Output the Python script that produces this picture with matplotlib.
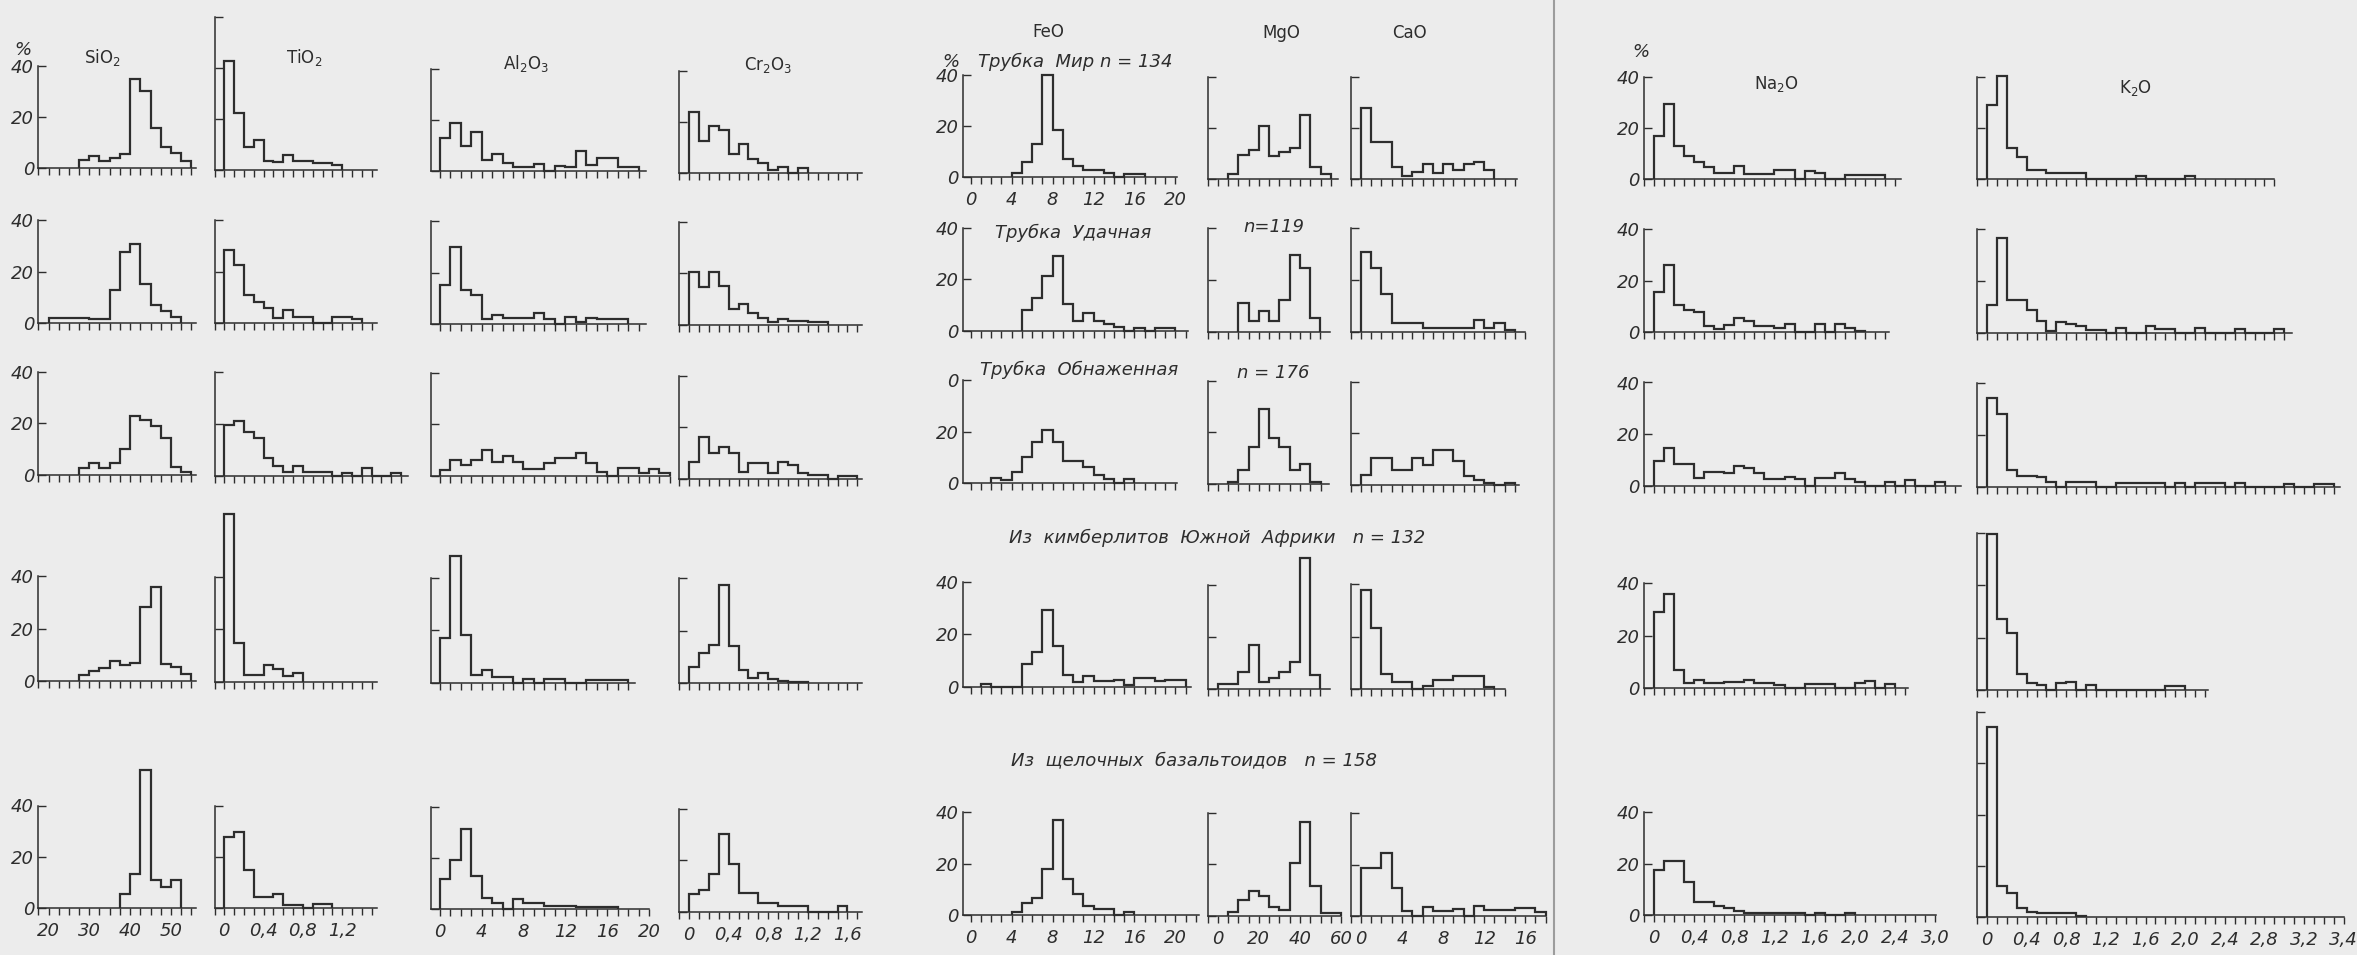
import numpy as np
import matplotlib
matplotlib.use("Agg")
import matplotlib.pyplot as plt
from matplotlib.lines import Line2D

# ---------------- categories / labels ----------------
OXIDE_LABELS = [r"SiO$_2$", r"TiO$_2$", r"Al$_2$O$_3$", r"Cr$_2$O$_3$", "FeO", "MgO", "CaO",
                r"Na$_2$O", r"K$_2$O"]
GROUP_NAMES = ["Трубка  Мир", "Трубка  Удачная", "Трубка  Обнаженная",
               "Из  кимберлитов  Южной  Африки", "Из  щелочных  базальтоидов"]
GROUP_N = [134, 119, 176, 132, 158]
BIN_WIDTH = [2.5, 0.1, 1, 0.1, 1, 5, 1, 0.1, 0.1]

# ---------------- histogram values (% per bin), one list per group ----------------
SIO2_START = [27.5, 20, 27.5, 27.5, 37.5]
SIO2_VALUES = [
    [3, 4.6, 2.6, 3.7, 5.4, 34.8, 30.2, 15.4, 8, 5.9, 2.6],
    [2, 2, 2, 2, 1.7, 1.7, 13, 27.7, 30.6, 15.3, 7.1, 4.9, 2.6],
    [2.8, 4.8, 2.8, 4.5, 10, 22.8, 21.3, 19.1, 14.2, 3.2, 1.3],
    [2.25, 3.75, 5.1, 7.6, 6, 7, 28.2, 35.7, 6.6, 5.4, 2.5],
    [5.5, 13.5, 54, 11.2, 8.4, 11],
]
TIO2_START = [0, 0, 0, 0, 0]
TIO2_VALUES = [
    [42.8, 22.4, 9.1, 11.7, 3.5, 3.3, 5.9, 3.5, 3.5, 2.6, 2.6, 2],
    [28.6, 22.5, 11, 8.4, 5.8, 1.9, 5.2, 2.6, 2.6, 0, 0, 2.6, 2.6, 1.6],
    [19.6, 21.3, 17, 14.8, 6.7, 3.7, 1.5, 3.9, 1.5, 1.5, 1.5, 0, 1.2, 0, 2.8, 0, 0, 1.2],
    [64, 14.8, 2.5, 2.5, 6.5, 5, 2.1, 3.4],
    [27.7, 29.5, 15, 4.3, 4.3, 5.6, 1.3, 1.3, 0, 1.7, 1.7],
]
AL2O3_START = [0, 0, 0, 0, 0]
AL2O3_VALUES = [
    [13, 18.8, 9.8, 15, 4.2, 6.5, 2.9, 1.3, 1.3, 2.6, 0, 2, 1.3, 7.7, 2.2, 4.8, 4.8, 1.6, 1.6],
    [15.2, 29.8, 13.3, 11.4, 1.9, 3.6, 2.6, 2.6, 2.6, 4.5, 1.9, 0, 3, 1, 2.3, 1.9, 1.9, 1.9],
    [2.3, 6.2, 4.3, 6.2, 10.1, 5.6, 7.8, 5.6, 2.6, 2.6, 4.9, 7.1, 7.1, 9.1, 4.9, 1.7, 0, 3, 3, 1, 2.6, 1],
    [17, 48.4, 18.3, 3, 4.7, 2, 2, 0, 1.3, 0, 1.3, 1.3, 0, 0, 1, 1, 1, 1],
    [11.7, 19.2, 31.2, 13, 4.3, 2.6, 0, 3.9, 2.3, 2.3, 1.4, 1.4, 1.4, 1, 1, 1, 1],
]
CR2O3_START = [0, 0, 0, 0, 0]
CR2O3_VALUES = [
    [23.9, 12.6, 18.7, 16.8, 7.5, 11.6, 5.5, 3.9, 1.3, 2.6, 0, 2.2],
    [20.6, 14.6, 20.6, 15, 6.1, 8.1, 4.5, 2.6, 1.3, 2.2, 1.5, 1.5, 1.3, 1.3],
    [6.7, 16.1, 9.9, 12.5, 10.2, 2.8, 6.3, 6.3, 2.2, 6.7, 5.5, 2.2, 1.5, 1.5, 0, 1, 1],
    [6.25, 11.6, 14.6, 37.5, 14.1, 5, 2.1, 4.1, 1.6, 0.9, 0.6, 0.6],
    [6.7, 8.6, 14.5, 30.3, 18.5, 7.1, 7.1, 3.2, 3.2, 2.2, 2.2, 2.2, 0, 0, 0, 2.2],
]
FEO_START = [4, 5, 2, 1, 4]
FEO_VALUES = [
    [1.6, 5.7, 12.8, 39.7, 18.3, 6.9, 4, 2.6, 2.6, 1.6, 0, 1, 1],
    [8.1, 12.9, 21.3, 29, 10.3, 3.7, 7, 3.7, 2.8, 1.5, 0, 1.3, 0, 1.3, 1.3],
    [1.9, 1.3, 4.3, 10.3, 16.1, 20.6, 16.1, 8.6, 8.6, 6.5, 3.2, 1.7, 0, 1.7],
    [1.05, 0, 0, 0, 8.8, 13.4, 29.1, 15.5, 4.6, 1.7, 4, 2.2, 2.2, 2.6, 0.8, 3.4, 3.4, 2, 2.6, 2.6],
    [1.3, 4.8, 6.8, 18, 37, 14, 8.1, 3.5, 2.2, 2.2, 0, 1.3],
]
MGO_START = [5, 10, 5, 0, 5]
MGO_VALUES = [
    [1.9, 9.6, 11.3, 20.6, 8.9, 10.6, 12.2, 25.1, 4.8, 1.9],
    [11.2, 4.3, 8.1, 4.3, 12.3, 29.9, 24.8, 5.2],
    [0.9, 5.6, 14.5, 28.9, 18, 14.3, 5.6, 7.6, 0.9],
    [2, 2, 6.5, 17, 2.6, 4.3, 6.5, 10.4, 50, 5.6],
    [1.6, 6.1, 9.6, 7.7, 3.5, 2.2, 20.7, 36.3, 11.6, 1.2, 1.2],
]
CAO_START = [0, 0, 0, 0, 0]
CAO_VALUES = [
    [27.8, 14.4, 14.4, 4.7, 1.3, 2.8, 6, 2.2, 5.8, 3.5, 5.8, 6.7, 3.5],
    [31, 24.5, 14.6, 3.2, 3.2, 3.2, 1.3, 1.3, 1.3, 1.3, 1.3, 4.5, 1.3, 3.5, 0.6],
    [3.9, 10.5, 10.5, 5.9, 5.9, 10.5, 7.8, 13.5, 13.5, 9.4, 3.3, 2, 0.9, 0, 0.7],
    [37.9, 23.5, 5.9, 2.7, 2.7, 0, 1.4, 3.4, 3.4, 4.9, 4.9, 4.9, 1],
    [18.6, 18.6, 24.4, 10.8, 2.1, 0, 3.4, 2.1, 2.1, 2.6, 0, 3.9, 2.3, 2.3, 2.3, 3.2, 3.2, 1.7],
]
NA2O_START = [0, 0, 0, 0, 0]
NA2O_VALUES = [
    [16.8, 29.5, 13, 9.1, 6.6, 4.7, 2.2, 2.2, 5.1, 1.9, 1.9, 1.9, 3.4, 3.4, 0, 3.2, 2.2, 0, 0,
     1.5, 1.5, 1.5, 1.5],
    [15.6, 26, 10.4, 8.7, 7.8, 2.5, 1.2, 2.9, 5.5, 4.2, 2.5, 2.5, 1.6, 3.2, 0, 0, 3.2, 0, 3.2, 1.6, 0.6],
    [9.5, 14.5, 8.6, 8.6, 3.1, 5.4, 5.4, 4.8, 7.7, 6.7, 5, 2.6, 2.6, 3.5, 2.5, 0, 2.8, 2.8, 4.8,
     2.6, 1.3, 0, 0, 1.5, 0, 2.2, 0, 0, 1.3],
    [29, 35.9, 7.1, 1.9, 3.2, 2.2, 2.2, 2.5, 2.5, 3.2, 2.2, 2.2, 1.3, 0, 0, 1.6, 1.6, 1.6, 0, 0,
     2.2, 2.6, 0, 1.6],
    [17.6, 20.9, 20.9, 12.7, 5.2, 5.2, 3.5, 2.6, 1.7, 0.9, 0.9, 0.9, 0.9, 0.7, 0.7, 0, 0.9, 0, 0, 0.9],
]
K2O_START = [0, 0, 0, 0, 0]
K2O_VALUES = [
    [29.1, 40.4, 12.2, 8.6, 3.5, 3.5, 2.2, 2.2, 2.2, 2.2, 0, 0, 0, 0, 0, 1.3, 0, 0, 0, 0, 1.3],
    [10.8, 36.8, 12.7, 12.7, 8.8, 4.7, 0.5, 4.3, 3.4, 2.6, 1, 1, 0, 1.7, 0, 0, 2.6, 1.4, 1.4, 0, 0,
     1.7, 0, 0, 0, 1.4, 0, 0, 0, 1.4],
    [34.4, 28.3, 6.5, 4.3, 4.3, 3.6, 1.9, 0, 1.7, 1.7, 1.7, 0, 0, 1.6, 1.6, 1.6, 1.3, 1.3, 0, 1.6, 0,
     1.3, 1.3, 1.3, 0, 1.3, 0, 0, 0, 0, 1, 0, 0, 1, 1],
    [59.5, 27, 21.9, 6.1, 2.6, 2, 0, 2.6, 2.9, 0, 2, 0, 0, 0, 0, 0, 0, 0, 1.7, 1.7],
    [74.1, 12.2, 9.4, 3.5, 2.2, 1.8, 1.8, 1.8, 1.8, 0.5],
]

# ---------------- axis tick labels ----------------
SIO2_XTICKS = [20, 30, 40, 50]
TIO2_XTICKS = [0, 0.4, 0.8, 1.2]
AL2O3_XTICKS = [0, 4, 8, 12, 16, 20]
CR2O3_XTICKS = [0, 0.4, 0.8, 1.2, 1.6]
FEO_XTICKS = [0, 4, 8, 12, 16, 20]
MGO_XTICKS = [0, 20, 40, 60]
CAO_XTICKS = [0, 4, 8, 12, 16]
NA2O_XTICKS = [0, 0.4, 0.8, 1.2, 1.6, 2.0, 2.4, 2.8]
K2O_XTICKS = [0, 0.4, 0.8, 1.2, 1.6, 2.0, 2.4, 2.8, 3.2, 3.6]
SIO2_XTEXT = ["20", "30", "40", "50"]
TIO2_XTEXT = ["0", "0,4", "0,8", "1,2"]
AL2O3_XTEXT = ["0", "4", "8", "12", "16", "20"]
CR2O3_XTEXT = ["0", "0,4", "0,8", "1,2", "1,6"]
FEO_XTEXT = ["0", "4", "8", "12", "16", "20"]
MGO_XTEXT = ["0", "20", "40", "60"]
CAO_XTEXT = ["0", "4", "8", "12", "16"]
NA2O_XTEXT = ["0", "0,4", "0,8", "1,2", "1,6", "2,0", "2,4", "3,0"]
K2O_XTEXT = ["0", "0,4", "0,8", "1,2", "1,6", "2,0", "2,4", "2,8", "3,2", "3,4"]
YTICKS = [0, 20, 40]
YTEXT = ["0", "20", "40"]
YTEXT_ALT = ["0", "20", "0"]   # as printed for "Трубка Обнаженная" FeO panel

STARTS = [SIO2_START, TIO2_START, AL2O3_START, CR2O3_START, FEO_START, MGO_START, CAO_START,
          NA2O_START, K2O_START]
VALUES = [SIO2_VALUES, TIO2_VALUES, AL2O3_VALUES, CR2O3_VALUES, FEO_VALUES, MGO_VALUES, CAO_VALUES,
          NA2O_VALUES, K2O_VALUES]
XTICKS = [SIO2_XTICKS, TIO2_XTICKS, AL2O3_XTICKS, CR2O3_XTICKS, FEO_XTICKS, MGO_XTICKS, CAO_XTICKS,
          NA2O_XTICKS, K2O_XTICKS]
XTEXT = [SIO2_XTEXT, TIO2_XTEXT, AL2O3_XTEXT, CR2O3_XTEXT, FEO_XTEXT, MGO_XTEXT, CAO_XTEXT,
         NA2O_XTEXT, K2O_XTEXT]

# ---------------- layout (pixels of the 2357 x 955 page) ----------------
W, H = 2357, 955
BG = "#ececec"
INK = "#2d2d2d"
# per column: reference value, its x pixel, pixels per unit, axis start value, tick origin
REF_VAL = [17.5, -0.1, 0, 0, 0, 0, 0, 0, 0]
REF_PX = [38.3, 214.5, 439.8, 689.0, 970.8, 1217.8, 1360.9, 1654.0, 1987.0]
PPU = [4.08, 98.2, 10.46, 99.0, 10.23, 2.054, 10.27, 100.4, 99.1]
VMIN = [17.5, -0.1, -0.8, -0.1, -0.75, -5, -1, -0.1, -0.1]
TICK_ORIGIN = [20, 0, 0, 0, 0, 0, 0, 0, 0]
XEND = [
    [56.25] * 5,
    [1.55, 1.55, 1.87, 1.55, 1.55],
    [19.7, 19.7, 22, 18.7, 20],
    [1.75] * 5,
    [20.2, 21.2, 20.2, 21.5, 22.3],
    [58.4, 54.7, 54, 54.7, 60],
    [15.2, 16, 15.4, 14, 18],
    [2.46, 2.34, 3.06, 2.53, 2.81],
    [2.9, 3.08, 3.56, 2.23, 3.6],
]
BASELINE = [
    [167.7, 323.3, 475.0, 681.0, 908.3],
    [170.0, 323.3, 475.7, 681.7, 908.3],
    [170.7, 324.3, 476.0, 682.7, 909.3],
    [173.3, 325.0, 479.0, 683.3, 911.7],
    [176.7, 331.0, 483.3, 686.7, 915.0],
    [179.0, 331.7, 484.0, 689.3, 915.7],
    [179.0, 331.7, 485.0, 689.3, 916.0],
    [179.0, 332.3, 485.7, 688.3, 915.0],
    [179.0, 332.7, 486.7, 690.0, 917.3],
]
ROW_SCALE = [2.55, 2.58, 2.58, 2.62, 2.57]   # pixels per percent
SPINE_TOP = {(1, 0): 60, (8, 3): 60, (8, 4): 80}
YLABEL_COLS = [0, 4, 7]

plt.rcParams["font.family"] = ["DejaVu Sans"]
plt.rcParams["mathtext.fontset"] = "dejavusans"

fig = plt.figure(figsize=(W / 100, H / 100), dpi=100)
fig.patch.set_facecolor(BG)

FS = 13
for c in range(9):
    bw = BIN_WIDTH[c]
    for r in range(5):
        vals = np.array(VALUES[c][r], dtype=float)
        edges = STARTS[c][r] + bw * np.arange(len(vals) + 1)
        vmin = VMIN[c]
        xend = XEND[c][r]
        labelled_x = (r == 4) or (c == 4 and r == 0)
        xhi = max(xend, edges[-1])
        x_left = REF_PX[c] + (vmin - REF_VAL[c]) * PPU[c]
        width = (xhi - vmin) * PPU[c]
        spine_top = SPINE_TOP.get((c, r), 40)
        ytop = max(spine_top, vals.max()) + 2
        sc = ROW_SCALE[r]
        base = BASELINE[c][r]
        ax = fig.add_axes([x_left / W, (H - base) / H, width / W, ytop * sc / H])
        ax.set_xlim(vmin, xhi)
        ax.set_ylim(0, ytop)
        ax.patch.set_visible(False)
        for s in ("top", "right"):
            ax.spines[s].set_visible(False)
        for s in ("left", "bottom"):
            ax.spines[s].set_color(INK)
            ax.spines[s].set_linewidth(1.1)
        ax.spines["left"].set_bounds(0, spine_top)
        ax.spines["bottom"].set_bounds(vmin, xend)

        ax.stairs(vals, edges, baseline=0, fill=False, color=INK, linewidth=1.6,
                  clip_on=False)

        # x ticks: one per bin width
        k0 = int(np.ceil((vmin - TICK_ORIGIN[c]) / bw - 1e-6))
        k1 = int(np.floor((xend - TICK_ORIGIN[c]) / bw + 1e-6))
        minor = np.round(TICK_ORIGIN[c] + bw * np.arange(k0, k1 + 1), 4)
        ax.set_xticks(minor, minor=True)
        if labelled_x:
            ax.set_xticks(XTICKS[c], XTEXT[c])
        else:
            ax.set_xticks([])
        ax.tick_params(axis="x", which="both", direction="out", length=5, width=1.0,
                       color=INK, labelsize=FS, labelcolor=INK, pad=5)
        for t in ax.get_xticklabels():
            t.set_fontstyle("italic")

        # y ticks
        yt = list(YTICKS)
        if spine_top > 40:
            yt += list(range(60, spine_top + 1, 20))
        if c in YLABEL_COLS:
            txt = YTEXT_ALT if (c == 4 and r == 2) else YTEXT
            ax.set_yticks(YTICKS, txt)
            for t in ax.get_yticklabels():
                t.set_fontstyle("italic")
        else:
            ax.set_yticks(yt)
            ax.tick_params(axis="y", labelleft=False)
        ax.tick_params(axis="y", direction="in", length=6, width=1.0, color=INK,
                       labelsize=FS, labelcolor=INK, pad=3)


def ftext(x, y, s, **kw):
    kw.setdefault("fontsize", FS)
    kw.setdefault("color", INK)
    kw.setdefault("va", "center")
    fig.text(x / W, 1 - y / H, s, **kw)


# column headers
HEAD_POS = [(102, 58), (304, 57), (526, 63), (768, 65), (1048, 32), (1281, 33), (1409, 33),
            (1776, 84), (2136, 88)]
for lab, (hx, hy) in zip(OXIDE_LABELS, HEAD_POS):
    ftext(hx, hy, lab, ha="center", fontsize=12)

# percent signs
ftext(23, 50, "%", ha="center", style="italic")
ftext(951, 62, "%", ha="center", style="italic")
ftext(1641, 52, "%", ha="center", style="italic")

# group captions
ftext(978, 62, GROUP_NAMES[0], ha="left", style="italic")
ftext(1136, 62, f"n = {GROUP_N[0]}", ha="center", style="italic")
ftext(995, 233, GROUP_NAMES[1], ha="left", style="italic")
ftext(1274, 227, f"n={GROUP_N[1]}", ha="center", style="italic")
ftext(980, 370, GROUP_NAMES[2], ha="left", style="italic")
ftext(1273, 373, f"n = {GROUP_N[2]}", ha="center", style="italic")
ftext(1009, 538, f"{GROUP_NAMES[3]}   n = {GROUP_N[3]}", ha="left", style="italic")
ftext(1011, 760, f"{GROUP_NAMES[4]}   n = {GROUP_N[4]}", ha="left", style="italic")

# page separator
fig.add_artist(Line2D([1554 / W, 1554 / W], [0, 1], color="#9c9c9c", linewidth=1.5))

fig.savefig("out.png", dpi=100, facecolor=BG)
